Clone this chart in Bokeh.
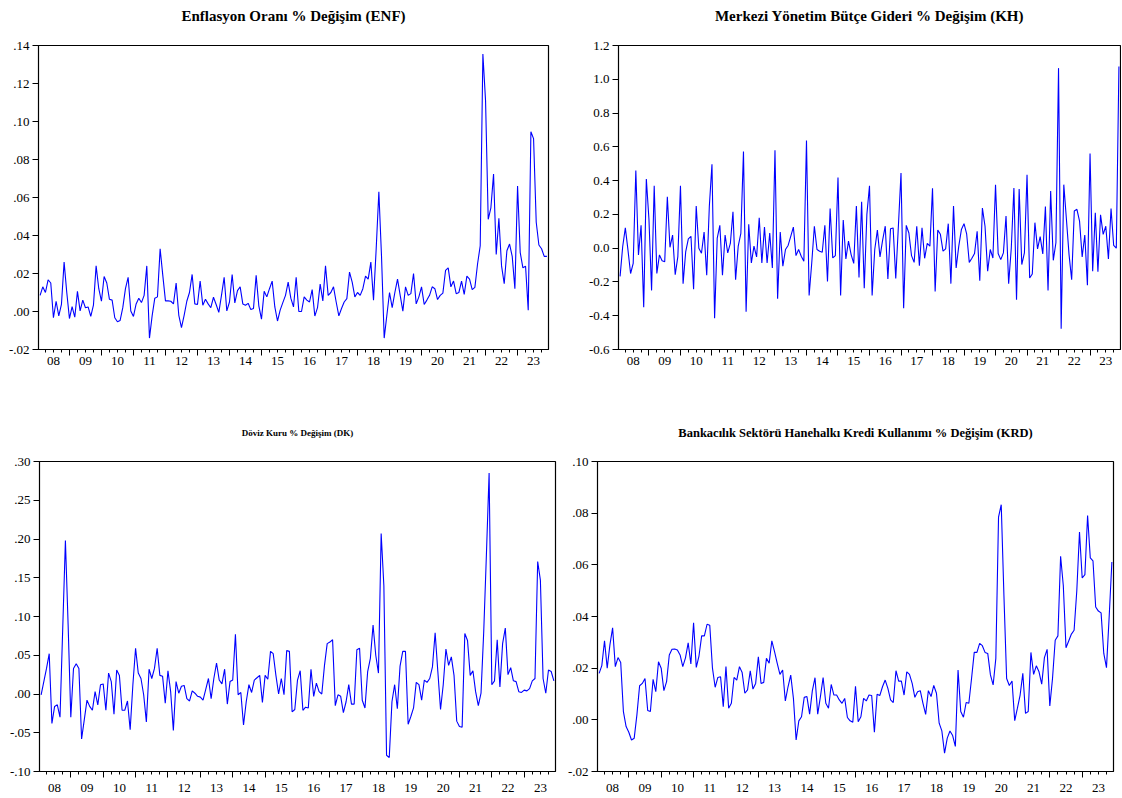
from bokeh.plotting import figure
from bokeh.models import LinearAxis, FixedTicker, Range1d, Title
from bokeh.layouts import column, row
from bokeh.embed import file_html
from bokeh.resources import INLINE

# Monthly % changes, 2008M02 .. 2023M12 (191 observations)
year_labels = ["08", "09", "10", "11", "12", "13", "14", "15",
               "16", "17", "18", "19", "20", "21", "22", "23"]

enf = [0.0085, 0.013, 0.010, 0.0167, 0.015, -0.0033, 0.0054, -0.0023, 0.0037, 0.026,
       0.010, -0.0037, 0.0026, -0.003, 0.0106, 0.0003, 0.006, 0.002, 0.0024, -0.0026,
       0.0033, 0.024, 0.012, 0.0054, 0.0184, 0.015, 0.0064, 0.006, -0.0033, -0.0054,
       -0.0047, 0.002, 0.012, 0.018, 0.0003, -0.0026, 0.004, 0.007, 0.0047, 0.0085,
       0.024, -0.014, -0.0023, 0.007, 0.0077, 0.033, 0.019, 0.0056, 0.0056, 0.0054,
       0.004, 0.015, -0.002, -0.0085, -0.002, 0.0054, 0.010, 0.0195, 0.004, 0.0037,
       0.016, 0.0033, 0.0064, 0.004, 0.002, 0.0075, 0.0037, -0.0005, 0.0085, 0.018,
       0.0003, 0.005, 0.0195, 0.0045, 0.011, 0.013, 0.004, 0.0033, 0.0043, 0.001,
       0.0016, 0.019, 0.003, -0.004, 0.0106, 0.0077, 0.012, 0.016, 0.0024, -0.005,
       0.0007, 0.0047, 0.0085, 0.0155, 0.007, 0.0024, 0.018, 0.0, 0.0, 0.0077,
       0.006, 0.005, 0.0115, -0.0024, 0.002, 0.0144, 0.0056, 0.024, 0.0085, 0.010,
       0.013, 0.005, -0.0023, 0.0016, 0.005, 0.0068, 0.0207, 0.0155, 0.0077, 0.010,
       0.0085, 0.012, 0.0186, 0.017, 0.026, 0.006, 0.033, 0.063, 0.029, -0.014,
       -0.002, 0.010, 0.002, 0.010, 0.017, 0.0085, 0.0002, 0.013, 0.0085, 0.0094,
       0.020, 0.004, 0.0077, 0.013, 0.0037, 0.006, 0.0085, 0.013, 0.012, 0.0063,
       0.0085, 0.0097, 0.0216, 0.023, 0.013, 0.016, 0.0094, 0.010, 0.016, 0.009,
       0.0186, 0.017, 0.0115, 0.0127, 0.025, 0.0346, 0.1355, 0.111, 0.0485, 0.0546,
       0.0723, 0.030, 0.049, 0.024, 0.0146, 0.032, 0.0355, 0.029, 0.012, 0.066,
       0.031, 0.023, 0.0238, 0.0007, 0.0946, 0.091, 0.047, 0.035, 0.033, 0.029,
       0.029]

kh = [-0.167, 0.01, 0.12, -0.01, -0.15, -0.09, 0.46, -0.04, 0.135, -0.35,
      0.41, 0.17, -0.25, 0.37, -0.15, -0.04, -0.075, -0.08, 0.305, 0.005,
      0.078, -0.157, -0.05, 0.37, -0.21, -0.02, 0.055, 0.07, -0.243, 0.25,
      0.0, -0.03, 0.095, -0.16, 0.25, 0.497, -0.415, 0.06, 0.135, -0.16,
      0.078, -0.028, 0.028, 0.215, -0.187, 0.012, 0.087, 0.573, -0.376, 0.141,
      -0.088, 0.012, -0.052, 0.18, -0.088, 0.125, -0.088, 0.09, -0.117, 0.58,
      -0.30, 0.095, -0.107, -0.008, 0.016, 0.07, 0.125, -0.044, -0.008, -0.048,
      -0.078, 0.638, -0.28, -0.088, 0.13, -0.008, -0.018, -0.024, 0.135, -0.197,
      0.235, -0.058, -0.044, 0.418, -0.28, 0.167, -0.064, 0.042, -0.038, -0.09,
      0.25, -0.173, 0.274, -0.237, 0.2, 0.37, -0.28, -0.008, 0.107, -0.052,
      0.048, 0.13, -0.183, 0.115, 0.12, -0.18, 0.13, 0.445, -0.356, 0.135,
      0.09, -0.044, -0.084, 0.13, -0.104, 0.12, -0.06, 0.028, 0.012, 0.354,
      -0.257, 0.107, 0.082, -0.018, -0.004, 0.145, -0.21, 0.25, -0.117, 0.012,
      0.11, 0.145, 0.085, -0.084, -0.06, -0.032, 0.1, -0.193, 0.237, 0.13,
      -0.137, -0.008, -0.058, 0.376, -0.032, -0.068, -0.028, 0.19, -0.21, 0.0,
      0.356, -0.306, 0.35, -0.097, -0.028, 0.434, -0.177, -0.153, 0.151, -0.004,
      0.068, -0.034, 0.247, -0.25, 0.338, -0.072, 0.032, 1.066, -0.477, 0.376,
      0.171, -0.038, -0.187, 0.22, 0.23, 0.16, -0.052, 0.078, -0.22, 0.56,
      -0.137, 0.21, -0.14, 0.197, 0.082, 0.13, -0.064, 0.235, 0.016, 0.0,
      1.076]

dk = [-0.001, 0.016, 0.033, 0.052, -0.038, -0.016, -0.014, -0.03, 0.084, 0.198,
      0.09, -0.03, 0.033, 0.039, 0.033, -0.058, -0.033, -0.008, -0.016, -0.021,
      0.003, -0.014, 0.012, 0.013, -0.021, 0.027, 0.016, -0.026, 0.031, 0.024,
      -0.021, -0.021, -0.009, -0.046, 0.012, 0.059, 0.027, 0.02, -0.001, -0.036,
      0.032, 0.02, 0.033, 0.059, 0.024, 0.023, -0.012, 0.03, 0.003, -0.047,
      0.016, 0.001, 0.01, 0.011, -0.006, -0.009, 0.004, 0.001, -0.003, -0.004,
      -0.008, 0.006, 0.02, -0.006, 0.02, 0.04, 0.018, 0.013, 0.032, -0.013,
      0.016, 0.018, 0.077, -0.001, 0.002, -0.04, -0.01, 0.012, 0.002, 0.018,
      0.021, 0.024, -0.011, 0.024, 0.019, 0.055, 0.052, 0.024, 0.0, 0.02,
      -0.001, 0.056, 0.055, -0.023, -0.02, 0.018, 0.03, -0.021, -0.017, -0.018,
      0.032, -0.003, 0.014, 0.003, 0.0, 0.037, 0.065, 0.067, 0.07, -0.015,
      -0.001, -0.003, -0.024, -0.01, 0.012, -0.013, -0.013, 0.057, 0.059, -0.008,
      -0.018, 0.029, 0.046, 0.089, 0.05, 0.027, 0.207, 0.14, -0.079, -0.082,
      -0.01, 0.012, -0.019, 0.036, 0.055, 0.055, -0.039, -0.029, -0.018, 0.015,
      0.012, -0.008, 0.018, 0.015, 0.02, 0.035, 0.079, 0.029, -0.02, 0.012,
      0.058, 0.037, 0.048, 0.024, -0.035, -0.042, -0.043, 0.078, 0.069, 0.024,
      0.03, 0.003, -0.015, 0.001, 0.08, 0.18, 0.285, 0.012, 0.017, 0.07,
      0.009, 0.065, 0.085, 0.025, 0.034, 0.017, 0.016, 0.003, 0.002, 0.005,
      0.004, 0.007, 0.017, 0.02, 0.171, 0.147, 0.02, 0.001, 0.031, 0.029,
      0.017]

krd = [0.018, 0.021, 0.0306, 0.02, 0.029, 0.0356, 0.0206, 0.0241, 0.0222, 0.0032,
       -0.0026, -0.0048, -0.0078, -0.0071, 0.0019, 0.0132, 0.0141, 0.016, 0.0036, 0.0032,
       0.0157, 0.0109, 0.0225, 0.02, 0.0113, 0.0148, 0.0251, 0.0273, 0.0274, 0.027,
       0.0251, 0.0206, 0.024, 0.0298, 0.0216, 0.0376, 0.0203, 0.0247, 0.0325, 0.0325,
       0.037, 0.0366, 0.02, 0.0126, 0.0164, 0.0167, 0.0051, 0.0206, 0.0045, 0.0064,
       0.0164, 0.0154, 0.0206, 0.0183, 0.0103, 0.0116, 0.019, 0.0119, 0.0141, 0.0244,
       0.0141, 0.0145, 0.0238, 0.0219, 0.0306, 0.0264, 0.0219, 0.0176, 0.0193, 0.0073,
       0.0128, 0.0173, 0.0083, -0.0078, -0.0004, 0.0012, 0.0087, 0.009, 0.0022, 0.0112,
       0.0163, 0.0022, 0.009, 0.0164, 0.0064, 0.0045, 0.0137, 0.0096, 0.0096, 0.0077,
       0.0064, 0.0083, 0.0009, -0.0004, -0.0009, 0.013, -0.0007, 0.0012, 0.0083, 0.0073,
       0.0096, 0.0094, -0.0048, 0.0099, 0.0094, 0.0128, 0.0154, 0.0122, 0.0077, 0.0067,
       0.019, 0.015, 0.015, 0.0096, 0.0186, 0.0176, 0.0141, 0.0087, 0.0109, 0.0113,
       0.0064, 0.0021, 0.0113, 0.009, 0.0133, 0.0103, -0.0013, -0.0043, -0.0129, -0.0071,
       -0.0043, -0.0061, -0.0103, 0.0193, 0.0032, 0.001, 0.0067, 0.0064, 0.016, 0.0261,
       0.0261, 0.0296, 0.0287, 0.0261, 0.0257, 0.0174, 0.0135, 0.0238, 0.0785, 0.0833,
       0.048, 0.016, 0.0133, 0.015, -0.0003, 0.0045, 0.0096, 0.018, 0.0025, 0.0032,
       0.0261, 0.0176, 0.0209, 0.0186, 0.0138, 0.0241, 0.0273, 0.0054, 0.016, 0.0308,
       0.0325, 0.0633, 0.052, 0.0279, 0.0305, 0.0332, 0.0347, 0.05, 0.0727, 0.0549,
       0.0562, 0.0791, 0.0627, 0.0615, 0.0437, 0.0421, 0.0414, 0.0257, 0.0202, 0.04,
       0.0611]

enf_ticks = [-0.02, 0.0, 0.02, 0.04, 0.06, 0.08, 0.10, 0.12, 0.14]
enf_tick_labels = ["-.02", ".00", ".02", ".04", ".06", ".08", ".10", ".12", ".14"]
kh_ticks = [-0.6, -0.4, -0.2, 0.0, 0.2, 0.4, 0.6, 0.8, 1.0, 1.2]
kh_tick_labels = ["-0.6", "-0.4", "-0.2", "0.0", "0.2", "0.4", "0.6", "0.8", "1.0", "1.2"]
dk_ticks = [-0.10, -0.05, 0.0, 0.05, 0.10, 0.15, 0.20, 0.25, 0.30]
dk_tick_labels = ["-.10", "-.05", ".00", ".05", ".10", ".15", ".20", ".25", ".30"]
krd_ticks = [-0.02, 0.0, 0.02, 0.04, 0.06, 0.08, 0.10]
krd_tick_labels = ["-.02", ".00", ".02", ".04", ".06", ".08", ".10"]

FONT = "Liberation Serif"


def make_panel(title, values, yticks, ylabels, width, height, borders, title_size,
               title_gap, xlabel_standoff):
    n = len(values)
    x = list(range(n))
    p = figure(width=width, height=height, output_backend="svg", toolbar_location=None,
               title=None,
               x_range=Range1d(-0.6, n - 0.4), y_range=Range1d(yticks[0], yticks[-1]),
               x_axis_location=None, y_axis_location="left",
               min_border_left=borders[0], min_border_right=borders[1],
               min_border_top=borders[2], min_border_bottom=borders[3])
    p.line(x, values, line_color="#0000FF", line_width=1.1)
    p.xgrid.visible = False
    p.ygrid.visible = False
    p.outline_line_color = "black"
    p.outline_line_width = 1.2
    p.background_fill_color = "white"
    p.border_fill_color = "white"

    # invisible spacer between the frame and the title
    spacer = LinearAxis(ticker=FixedTicker(ticks=[n // 2], minor_ticks=[]),
                        major_label_overrides={n // 2: ""},
                        major_tick_out=title_gap, major_tick_in=0, major_label_standoff=0,
                        major_label_text_font_size="0px",
                        axis_line_color=None, major_tick_line_color=None,
                        minor_tick_line_color=None)
    p.add_layout(spacer, "above")
    p.add_layout(Title(text=title, align="center", vertical_align="bottom", standoff=0,
                       text_font=FONT, text_font_style="bold",
                       text_font_size=title_size, text_color="black"), "above")

    ya = p.yaxis[0]
    ya.ticker = FixedTicker(ticks=yticks)
    ya.major_label_overrides = dict(zip(yticks, ylabels))
    ya.major_tick_out = 6
    ya.major_tick_in = 0
    ya.minor_tick_line_color = None
    ya.major_label_standoff = 3
    ya.major_label_text_font = FONT
    ya.major_label_text_font_size = "13px"
    ya.major_label_text_color = "black"
    ya.axis_line_color = "black"
    ya.major_tick_line_color = "black"

    # year boundaries (January) and quarterly minor ticks
    bounds = [i for i in range(11, n, 12)]
    quarters = [i for i in range(2, n, 3) if i not in bounds]
    mids = [5 + 12 * k for k in range(len(year_labels))]

    tick_axis = LinearAxis(ticker=FixedTicker(ticks=bounds, minor_ticks=quarters),
                           major_tick_out=6, major_tick_in=0,
                           minor_tick_out=3, minor_tick_in=0,
                           major_label_overrides={b: "" for b in bounds},
                           major_label_text_font_size="0px", major_label_standoff=0,
                           axis_line_color="black", major_tick_line_color="black",
                           minor_tick_line_color="black")
    label_axis = LinearAxis(ticker=FixedTicker(ticks=mids, minor_ticks=[]),
                            major_label_overrides=dict(zip(mids, year_labels)),
                            axis_line_color=None, major_tick_line_color=None,
                            minor_tick_line_color=None, major_tick_out=0, major_tick_in=0,
                            major_label_standoff=xlabel_standoff,
                            major_label_text_font=FONT, major_label_text_font_size="13px",
                            major_label_text_color="black")
    p.add_layout(tick_axis, "below")
    p.add_layout(label_axis, "below")
    return p


p1 = make_panel("Enflasyon Oranı % Değişim (ENF)", enf, enf_ticks, enf_tick_labels,
                561, 399, (38, 13, 45, 50), "15px", 22, 1)
p2 = make_panel("Merkezi Yönetim Bütçe Gideri % Değişim (KH)", kh, kh_ticks, kh_tick_labels,
                560, 399, (57, 1, 45, 50), "15px", 22, 1)
p3 = make_panel("Döviz Kuru % Değişim (DK)", dk, dk_ticks, dk_tick_labels,
                561, 398, (39, 6, 62, 26), "9px", 24, 6)
p4 = make_panel("Bankacılık Sektörü Hanehalkı Kredi Kullanımı % Değişim (KRD)", krd,
                krd_ticks, krd_tick_labels, 560, 398, (36, 8, 62, 26), "12.5px", 22, 6)

layout = column(row(p1, p2), row(p3, p4))

with open("out.html", "w") as f:
    f.write(file_html(layout, INLINE))
